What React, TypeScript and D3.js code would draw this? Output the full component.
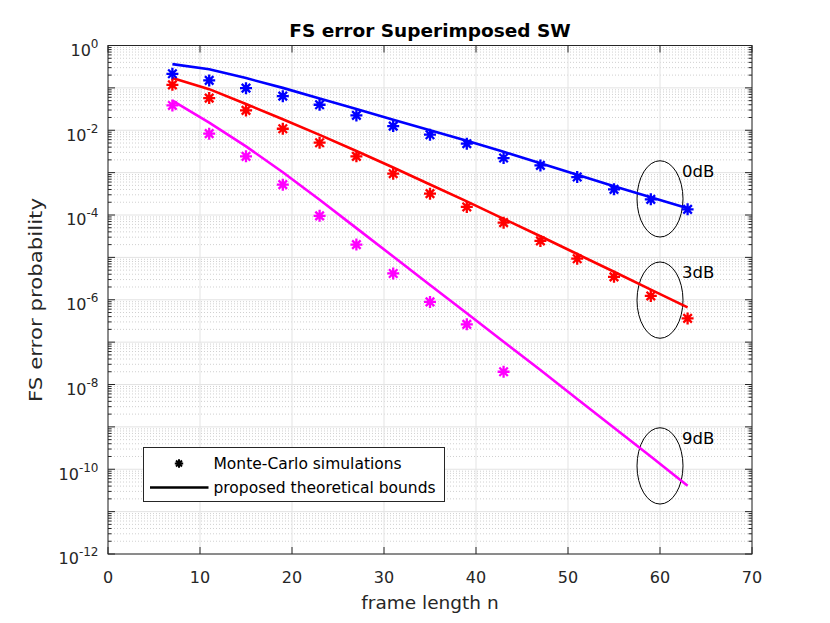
import { useEffect, useRef } from "react";
import * as d3 from "d3";

// frame lengths used for simulation and bounds
const frameLength = [7, 11, 15, 19, 23, 27, 31, 35, 39, 43, 47, 51, 55, 59, 63];

// Monte-Carlo simulations
const sim0dB = [0.215, 0.15, 0.0984, 0.0638, 0.04, 0.0224, 0.01253, 7.85e-3, 4.82e-3, 2.21e-3, 1.48e-3, 7.87e-4, 4.03e-4, 2.34e-4, 1.36e-4];
const sim3dB = [0.118, 0.0573, 0.0294, 0.01086, 5.08e-3, 2.42e-3, 9.44e-4, 3.19e-4, 1.55e-4, 6.6e-5, 2.45e-5, 9.3e-6, 3.47e-6, 1.23e-6, 3.63e-7];
const sim9dB = [0.0385, 8.3e-3, 2.42e-3, 5.2e-4, 9.55e-5, 2.0e-5, 4.17e-6, 8.9e-7, 2.63e-7, 2.0e-8];

// proposed theoretical bounds
const bound0dB = [0.363, 0.275, 0.17, 0.1, 0.0562, 0.0316, 0.0178, 0.01, 5.62e-3, 3.09e-3, 1.66e-3, 8.91e-4, 4.79e-4, 2.63e-4, 1.45e-4];
const bound3dB = [0.17, 0.0933, 0.0417, 0.0182, 7.76e-3, 3.24e-3, 1.32e-3, 5.25e-4, 2.09e-4, 8.13e-5, 3.16e-5, 1.2e-5, 4.57e-6, 1.74e-6, 6.61e-7];
const bound9dB = [0.0501, 0.0151, 4.17e-3, 1.02e-3, 2.29e-4, 4.9e-5, 1.05e-5, 2.24e-6, 4.79e-7, 1.02e-7, 2.19e-8, 4.57e-9, 9.55e-10, 2.0e-10, 4.07e-11];

const seriesColors = ["#0000ff", "#ff0000", "#ff00ff"];

// SNR annotations (ellipse centres)
const snrLabels = ["0dB", "3dB", "9dB"];
const snrCentreN = [60, 60, 60];
const snrCentreP = [2.4e-4, 9.8e-7, 1.2e-10];

const xTicks = [0, 10, 20, 30, 40, 50, 60, 70];
const yTickExps = [0, -2, -4, -6, -8, -10, -12];

const legendLabels = ["Monte-Carlo simulations", "proposed theoretical bounds"];

const FONT = "DejaVu Sans, sans-serif";
const AXIS = "#262626";

export default function App() {
  const svgRef = useRef<SVGSVGElement>(null);

  useEffect(() => {
    if (!svgRef.current) return;
    const svg = d3.select(svgRef.current);
    svg.selectAll("*").remove();

    const left = 108, right = 752, top = 45.5, bottom = 554;

    const x = d3.scaleLinear().domain([0, 70]).range([left, right]);
    const y = d3.scaleLog().domain([1e-12, 1]).range([bottom, top]);

    svg.append("rect").attr("width", 830).attr("height", 623).attr("fill", "#fff");

    // minor grid (dotted)
    const minor: number[] = [];
    for (let e = -12; e < 0; e++) for (let m = 2; m <= 9; m++) minor.push(m * Math.pow(10, e));
    svg.append("g")
      .selectAll("line")
      .data(minor)
      .join("line")
      .attr("x1", left).attr("x2", right)
      .attr("y1", (d) => y(d)).attr("y2", (d) => y(d))
      .attr("stroke", "#c4c4c4")
      .attr("stroke-width", 0.8)
      .attr("stroke-dasharray", "1,2");

    // major grid
    const decades = d3.range(-12, 1).map((e) => Math.pow(10, e));
    svg.append("g")
      .selectAll("line")
      .data(decades)
      .join("line")
      .attr("x1", left).attr("x2", right)
      .attr("y1", (d) => y(d)).attr("y2", (d) => y(d))
      .attr("stroke", "#e3e3e3")
      .attr("stroke-width", 1);
    svg.append("g")
      .selectAll("line")
      .data(xTicks)
      .join("line")
      .attr("x1", (d) => x(d)).attr("x2", (d) => x(d))
      .attr("y1", top).attr("y2", bottom)
      .attr("stroke", "#e3e3e3")
      .attr("stroke-width", 1);

    // ellipses + labels
    const ell = svg.append("g");
    snrLabels.forEach((lab, i) => {
      const cx = x(snrCentreN[i]);
      const cy = y(snrCentreP[i]);
      const rx = x(snrCentreN[i] + 2.5) - cx;
      const ry = y(snrCentreP[i] / Math.pow(10, 0.9)) - cy;
      ell.append("ellipse")
        .attr("cx", cx).attr("cy", cy).attr("rx", rx).attr("ry", ry)
        .attr("fill", "none").attr("stroke", "#000").attr("stroke-width", 1);
      ell.append("text")
        .attr("x", cx + 22).attr("y", cy - 22)
        .attr("font-family", FONT).attr("font-size", 16.5)
        .attr("fill", "#000")
        .text(lab);
    });

    // bound lines
    const line = d3.line<number>()
      .x((_, i) => x(frameLength[i]))
      .y((d) => y(d));
    [bound0dB, bound3dB, bound9dB].forEach((s, i) => {
      svg.append("path")
        .datum(s)
        .attr("fill", "none")
        .attr("stroke", seriesColors[i])
        .attr("stroke-width", 2.6)
        .attr("d", line);
    });

    // asterisk markers
    const star = (r: number) => {
      const p = d3.path();
      for (let k = 0; k < 4; k++) {
        const a = (k * Math.PI) / 4;
        p.moveTo(-r * Math.cos(a), -r * Math.sin(a));
        p.lineTo(r * Math.cos(a), r * Math.sin(a));
      }
      return p.toString();
    };
    [sim0dB, sim3dB, sim9dB].forEach((s, i) => {
      svg.append("g")
        .selectAll("path")
        .data(s)
        .join("path")
        .attr("transform", (d, j) => `translate(${x(frameLength[j])},${y(d)})`)
        .attr("d", star(6))
        .attr("fill", "none")
        .attr("stroke", seriesColors[i])
        .attr("stroke-width", 2.3);
    });

    // axes box
    svg.append("rect")
      .attr("x", left).attr("y", top)
      .attr("width", right - left).attr("height", bottom - top)
      .attr("fill", "none").attr("stroke", AXIS).attr("stroke-width", 1);

    // ticks
    const tickG = svg.append("g").attr("stroke", AXIS).attr("stroke-width", 1);
    xTicks.forEach((t) => {
      tickG.append("line").attr("x1", x(t)).attr("x2", x(t)).attr("y1", bottom).attr("y2", bottom - 7);
      tickG.append("line").attr("x1", x(t)).attr("x2", x(t)).attr("y1", top).attr("y2", top + 7);
    });
    decades.forEach((d) => {
      tickG.append("line").attr("x1", left).attr("x2", left + 7).attr("y1", y(d)).attr("y2", y(d));
      tickG.append("line").attr("x1", right).attr("x2", right - 7).attr("y1", y(d)).attr("y2", y(d));
    });
    minor.forEach((d) => {
      tickG.append("line").attr("x1", left).attr("x2", left + 3.5).attr("y1", y(d)).attr("y2", y(d));
      tickG.append("line").attr("x1", right).attr("x2", right - 3.5).attr("y1", y(d)).attr("y2", y(d));
    });

    // tick labels
    svg.append("g")
      .selectAll("text")
      .data(xTicks)
      .join("text")
      .attr("x", (d) => x(d))
      .attr("y", bottom + 29)
      .attr("text-anchor", "middle")
      .attr("font-family", FONT).attr("font-size", 16)
      .attr("fill", AXIS)
      .text((d) => d);

    const yl = svg.append("g");
    yTickExps.forEach((e) => {
      const t = yl.append("text")
        .attr("x", 98.5)
        .attr("y", y(Math.pow(10, e)) + 10.3)
        .attr("text-anchor", "end")
        .attr("font-family", FONT).attr("font-size", 16)
        .attr("fill", AXIS);
      t.append("tspan").text("10");
      t.append("tspan").attr("font-size", 12).attr("dy", -8).text(String(e));
    });

    // labels
    svg.append("text")
      .attr("x", (left + right) / 2).attr("y", 36.5)
      .attr("text-anchor", "middle")
      .attr("font-family", FONT).attr("font-size", 18.5).attr("font-weight", "bold")
      .attr("fill", "#000")
      .text("FS error Superimposed SW");
    svg.append("text")
      .attr("x", (left + right) / 2).attr("y", 609)
      .attr("text-anchor", "middle")
      .attr("font-family", FONT).attr("font-size", 18.5)
      .attr("fill", AXIS)
      .text("frame length n");
    svg.append("text")
      .attr("transform", `translate(42,300) rotate(-90)`)
      .attr("text-anchor", "middle")
      .attr("font-family", FONT).attr("font-size", 18.5)
      .attr("textLength", 204).attr("lengthAdjust", "spacingAndGlyphs")
      .attr("fill", AXIS)
      .text("FS error probability");

    // legend
    const lg = svg.append("g").attr("transform", "translate(143.5,447.5)");
    lg.append("rect")
      .attr("width", 301).attr("height", 54)
      .attr("fill", "#fff").attr("stroke", AXIS).attr("stroke-width", 1);
    lg.append("path")
      .attr("transform", "translate(35.5,16)")
      .attr("d", star(4.2))
      .attr("fill", "none").attr("stroke", "#000").attr("stroke-width", 2);
    lg.append("line")
      .attr("x1", 6.5).attr("x2", 65).attr("y1", 40).attr("y2", 40)
      .attr("stroke", "#000").attr("stroke-width", 2.6);
    legendLabels.forEach((l, i) => {
      lg.append("text")
        .attr("x", 70).attr("y", 21.5 + i * 24)
        .attr("font-family", FONT).attr("font-size", 15.5)
        .attr("fill", "#000")
        .text(l);
    });
  }, []);

  return (
    <svg
      ref={svgRef}
      width={830}
      height={623}
      style={{ position: "fixed", left: 0, top: 0 }}
    />
  );
}
